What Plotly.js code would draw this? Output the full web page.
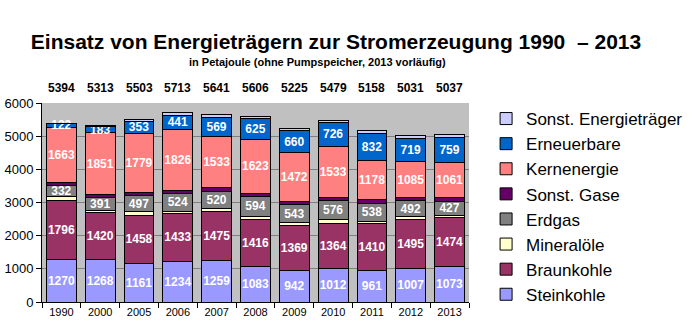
<!DOCTYPE html>
<html><head><meta charset="utf-8">
<script src="https://cdn.plot.ly/plotly-3.0.1.min.js"></script>
<style>html,body{margin:0;padding:0;background:#fff}#c{width:700px;height:331px}</style>
</head><body><div id="c"></div>
<script>
const years = ['1990','2000','2005','2006','2007','2008','2009','2010','2011','2012','2013'];
const steinkohle = [1270,1268,1161,1234,1259,1083,942,1012,961,1007,1073];
const braunkohle = [1796,1420,1458,1433,1475,1416,1369,1364,1410,1495,1474];
const mineraloele = [121,70,95,75,75,85,79,98,69,63,63];
const erdgas = [332,391,497,524,520,594,543,576,538,492,427];
const sonstGase = [80,100,100,100,130,100,100,110,100,80,100];
const kernenergie = [1663,1851,1779,1826,1533,1623,1472,1533,1178,1085,1061];
const erneuerbare = [122,183,353,441,569,625,660,726,832,719,759];
const sonstET = [10,30,60,80,80,60,60,60,70,90,80];
const totals = [5394,5313,5503,5713,5641,5606,5225,5479,5158,5031,5037];

const series = [
  {name:'Steinkohle', y:steinkohle, color:'#9999ff', label:true},
  {name:'Braunkohle', y:braunkohle, color:'#993366', label:true},
  {name:'Mineralöle', y:mineraloele, color:'#ffffcc', label:false},
  {name:'Erdgas', y:erdgas, color:'#808080', label:true},
  {name:'Sonst. Gase', y:sonstGase, color:'#660066', label:false},
  {name:'Kernenergie', y:kernenergie, color:'#ff8080', label:true},
  {name:'Erneuerbare', y:erneuerbare, color:'#0066cc', label:true},
  {name:'Sonst. Energieträger', y:sonstET, color:'#ccccff', label:false}
];

const FONT = 'Liberation Sans, Arial, sans-serif';

const traces = series.map(s => {
  const t = {
    type:'bar', name:s.name, x:years, y:s.y,
    marker:{color:s.color, line:{color:'#000', width:1}},
    hoverinfo:'skip'
  };
  if (s.label) {
    t.text = s.y.map(v=>'<b>'+v+'</b>');
    t.textposition = 'inside';
    t.insidetextanchor = 'middle';
    t.constraintext = 'none';
    t.textangle = 0;
    t.textfont = {color:'#fff', size:12, family:FONT};
  } else {
    t.textposition = 'none';
  }
  return t;
});

const annotations = totals.map((v,i)=>({
  x:i, y:1, xref:'x', yref:'paper', yshift:6, yanchor:'bottom',
  text:'<b>'+v+'</b>', showarrow:false,
  font:{size:12, color:'#000', family:FONT}
}));
annotations.push({
  x:0.645, xref:'paper', y:1, yref:'paper', yshift:33, yanchor:'bottom',
  text:'<b>in Petajoule (ohne Pumpspeicher, 2013 vorläufig)</b>', showarrow:false,
  font:{size:11, color:'#000', family:FONT}
});

const layout = {
  width:700, height:331,
  margin:{l:42, r:202, t:103, b:29},
  paper_bgcolor:'#fff', plot_bgcolor:'#c0c0c0',
  barmode:'stack', bargap:0.23,
  title:{text:'<b>Einsatz von Energieträgern zur Stromerzeugung 1990  – 2013</b>',
    x:0.48, xref:'container', xanchor:'center', y:0.875, yref:'container', yanchor:'middle',
    font:{size:21, color:'#000', family:FONT}},
  font:{family:FONT, color:'#000'},
  xaxis:{type:'category', range:[-0.5,10.5], autorange:false, showline:true, linecolor:'#000', linewidth:1,
    ticks:'outside', tickson:'boundaries', ticklen:5, tickcolor:'#000',
    tickfont:{size:11}, showgrid:false, tickangle:0},
  yaxis:{range:[0,6000], autorange:false, dtick:1000, showline:true, linecolor:'#000', linewidth:1,
    ticks:'outside', ticklen:5, tickcolor:'#000', tickfont:{size:13},
    gridcolor:'#7f7f7f', gridwidth:1, zeroline:false},
  legend:{traceorder:'reversed', x:1.04, xanchor:'left', y:1.01, yanchor:'top',
    font:{size:17, color:'#000'}, tracegroupgap:0, bgcolor:'rgba(0,0,0,0)', maxheight:1},
  annotations:annotations,
  showlegend:true
};

Plotly.newPlot('c', traces, layout, {displayModeBar:false, staticPlot:true});
</script>
</body></html>
